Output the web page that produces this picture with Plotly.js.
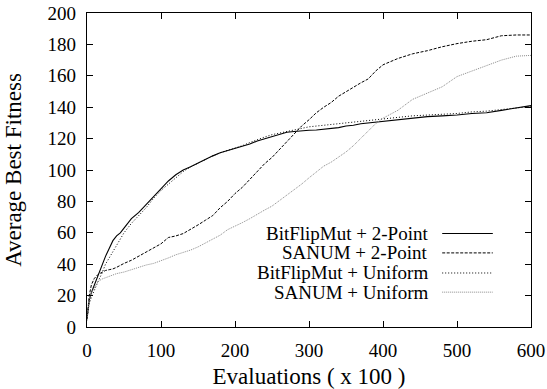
<!DOCTYPE html>
<html>
<head>
<meta charset="utf-8">
<script src="https://cdn.plot.ly/plotly-3.0.1.min.js"></script>
<style>html,body{margin:0;padding:0;background:#fff}#chart{width:547px;height:389px}</style>
</head>
<body>
<div id="chart"></div>
<script>
// Evaluations (x 100)
const evaluations = [0,3,6,10,15,20,25,30,35,40,45,50,60,70,80,90,100,110,120,130,140,150,160,170,180,190,200,210,220,230,240,250,260,270,280,290,300,310,320,330,340,350,360,370,380,390,400,420,440,460,480,500,520,540,560,580,600];

const seriesNames = ["BitFlipMut + 2-Point", "SANUM + 2-Point", "BitFlipMut + Uniform", "SANUM + Uniform"];

const bitFlip2Point = [5,17,22,27,33,39,45,50,55,58,60,63,69,73,78,83,88,93,97,100,102,104.5,107,109,111,112.5,114,115,116.5,118.5,120,121.5,123,124,124.5,125,125.3,125.5,126,126.5,127,128,128.5,129.5,130,130.5,131,132,133,134,134.5,135,136,136.5,138,139.5,141];

const sanum2Point = [5,20,27,31,33.5,35,36,36.5,37,38,39.5,40.5,42.5,45,47.5,50,53,57,58,59.5,62,65,68,71,76,80,85,89,94,99,104,108,113,118,123.5,128,132,136.5,140,143,147,150,153,155.5,158,163,167,171,174,176,178.5,180.5,182,183,185.5,186,186];

const bitFlipUniform = [5,15,19,24,29,34,40,44,48,52,56,60,66,71,76,82,87,91,95,99,102,104.5,107,109,111,112.5,114,115.5,117.5,119.5,121,122.5,123.5,124.5,125.5,126.5,127.5,128,128.5,129,129.5,130,130.5,131,131.5,132,132.5,133.5,134.5,135,135.5,136,137,137.5,138.5,139.5,140.5];

const sanumUniform = [4,18,22,25,29,30.5,31.5,32.5,33.5,34,34.5,35,36.5,38,39.5,40.5,42,44,46,47.5,49,51,53.5,56,58.5,62,64,66.5,69,72,74.5,77,80.5,84,87,91,95,99,102.5,105,108,111.5,115.5,120,125,129.5,133,138,145,149,153,159.5,163,166,170,172.5,173];

const seriesValues = [bitFlip2Point, sanum2Point, bitFlipUniform, sanumUniform];
const xTicks = [0,100,200,300,400,500,600];
const yTicks = [0,20,40,60,80,100,120,140,160,180,200];

const lineColors = ["#000000", "#000000", "#000000", "#8a8a8a"];
const lineDashes = ["solid", "3px,1.5px", "1px,2px", "1px,1px"];
const lineWidths = [1.1, 1, 1, 1];

const traces = seriesNames.map((name, i) => ({
  x: evaluations,
  y: seriesValues[i],
  name: name,
  type: "scatter",
  mode: "lines",
  line: {color: lineColors[i], dash: lineDashes[i], width: lineWidths[i]},
  showlegend: false,
  hoverinfo: "skip"
}));

// Gnuplot-style key: right-aligned text with the line sample to its right
const legendRowsY = [0.298, 0.236, 0.172, 0.111];
const annotations = seriesNames.map((name, i) => ({
  xref: "paper", yref: "paper",
  x: 0.772, y: legendRowsY[i],
  xanchor: "right", yanchor: "middle",
  text: name, showarrow: false
}));
const shapes = seriesNames.map((name, i) => ({
  type: "line", xref: "paper", yref: "paper",
  x0: 0.800, x1: 0.914, y0: legendRowsY[i], y1: legendRowsY[i],
  line: {color: lineColors[i], dash: lineDashes[i], width: lineWidths[i]}
}));

const layout = {
  width: 547, height: 389,
  margin: {l: 87, r: 16, t: 13, b: 62},
  paper_bgcolor: "#fff", plot_bgcolor: "#fff",
  font: {family: "Liberation Serif", size: 19, color: "#000"},
  xaxis: {
    showline: true, linecolor: "#000", linewidth: 1.3, mirror: "ticks",
    ticks: "inside", ticklen: 6, tickwidth: 1, tickcolor: "#000",
    showgrid: false, zeroline: false,
    range: [0, 600], tickvals: xTicks, ticktext: xTicks.map(String),
    ticklabelstandoff: 6,
    title: {text: "Evaluations ( x 100 )", standoff: 8}
  },
  yaxis: {
    showline: true, linecolor: "#000", linewidth: 1.3, mirror: "ticks",
    ticks: "inside", ticklen: 6, tickwidth: 1, tickcolor: "#000",
    showgrid: false, zeroline: false,
    range: [0, 200], tickvals: yTicks, ticktext: yTicks.map(String),
    ticklabelstandoff: 6,
    title: {text: "Average Best Fitness", standoff: 19}
  },
  annotations: annotations,
  shapes: shapes
};

Plotly.newPlot("chart", traces, layout, {displayModeBar: false});
</script>
</body>
</html>
